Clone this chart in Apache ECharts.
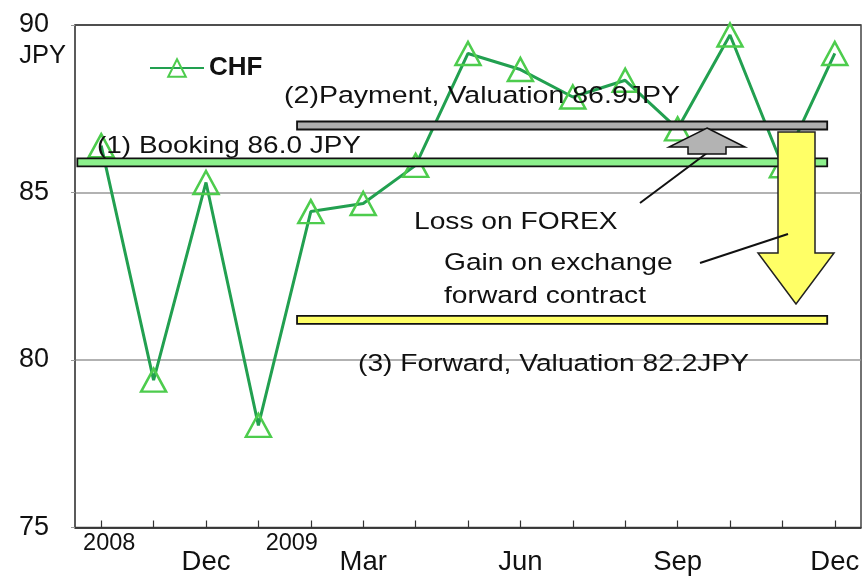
<!DOCTYPE html>
<html>
<head>
<meta charset="utf-8">
<script src="https://cdn.jsdelivr.net/npm/echarts@6/dist/echarts.min.js"></script>
<style>
html,body{margin:0;padding:0;background:#fff;}
#chart{width:863px;height:577px;}
</style>
</head>
<body>
<div id="chart"></div>
<script>
// ---- data ----
const categories = ['Oct 2008','Nov 2008','Dec 2008','Jan 2009','Feb 2009','Mar 2009','Apr 2009','May 2009','Jun 2009','Jul 2009','Aug 2009','Sep 2009','Oct 2009','Nov 2009','Dec 2009'];
const monthLabels = ['', '', 'Dec', '', '', 'Mar', '', '', 'Jun', '', '', 'Sep', '', '', 'Dec'];
const yearLabels = ['2008', '', '', '', '2009', '', '', '', '', '', '', '', '', '', ''];
const chfValues = [86.4, 79.4, 85.3, 78.05, 84.43, 84.67, 85.81, 89.15, 88.67, 87.85, 88.35, 86.9, 89.7, 85.8, 89.15];
const seriesName = 'CHF';
const yMin = 75, yMax = 90, yStep = 5;
const rateNames = ['(1) Booking 86.0 JPY', '(2)Payment, Valuation 86.9JPY', '(3) Forward, Valuation 82.2JPY'];
const rateLevels = [85.9, 87.0, 81.2];
const noteLoss = 'Loss on FOREX';
const noteGain = ['Gain on exchange', 'forward contract'];

// ---- styles (positions / looks) ----
const FONT = "'Liberation Sans', Arial, sans-serif";
const barStyle = [
  {fill: '#8cf08c', x0: 0.003, x1: 0.957},
  {fill: '#b0b0b0', x0: 0.2825, x1: 0.957},
  {fill: '#ffff66', x0: 0.2825, x1: 0.957}
];
const BAR_H = 8;

const chart = echarts.init(document.getElementById('chart'), null, {renderer: 'canvas'});

function txt(text, x, y, sx) {
  return {
    type: 'text', x: x, y: y, scaleX: sx || 1.15, z: 2.5,
    style: {text: text, fontSize: 24.5, fontFamily: FONT, fill: '#111', verticalAlign: 'middle', align: 'left'}
  };
}

const option = {
  animation: false,
  backgroundColor: '#fff',
  grid: {left: 75, right: 2, top: 25, bottom: 49.5, show: true, borderColor: '#444', borderWidth: 1.5, backgroundColor: 'transparent'},
  legend: {
    show: true, left: 144, top: 50, itemWidth: 54, itemHeight: 22, itemGap: 5,
    data: [seriesName],
    textStyle: {fontSize: 26, fontWeight: 'bold', fontFamily: FONT, color: '#111'}
  },
  xAxis: [{
    type: 'category', data: categories, boundaryGap: true, position: 'bottom',
    axisLine: {show: true, lineStyle: {color: '#333', width: 1.5}},
    axisTick: {show: true, inside: true, length: 7, alignWithLabel: true, interval: 0, lineStyle: {color: '#333', width: 1.2}},
    axisLabel: {interval: 0, margin: 21, fontSize: 27.5, fontFamily: FONT, color: '#111',
      formatter: function (v, i) { return monthLabels[i]; }},
    splitLine: {show: false}
  }, {
    type: 'category', data: categories, boundaryGap: true, position: 'bottom',
    axisLine: {show: false}, axisTick: {show: false}, splitLine: {show: false},
    axisLabel: {interval: 0, margin: 4, fontSize: 23.5, fontFamily: FONT, color: '#111',
      formatter: function (v, i) {
        const t = yearLabels[i];
        if (!t) return '';
        return i === 0 ? '{a|' + t + '}' : '{b|' + t + '}';
      },
      rich: {
        a: {fontSize: 23.5, fontFamily: FONT, color: '#111', padding: [0, 0, 0, 16]},
        b: {fontSize: 23.5, fontFamily: FONT, color: '#111', padding: [0, 38, 0, 0]}
      }
    }
  }],
  yAxis: {
    type: 'value', min: yMin, max: yMax, interval: yStep,
    name: 'JPY', nameLocation: 'end', nameGap: -31,
    nameTextStyle: {fontSize: 25.5, fontFamily: FONT, color: '#111', align: 'right', verticalAlign: 'middle', padding: [0, 9, 0, 0]},
    axisLine: {show: true, lineStyle: {color: '#555', width: 1.5}},
    axisTick: {show: true, inside: false, length: 4, lineStyle: {color: '#999'}},
    axisLabel: {fontSize: 27, fontFamily: FONT, color: '#111', margin: 26},
    splitLine: {show: true, lineStyle: {color: ['#444', '#999', '#999', '#444'], width: 1.5}}
  },
  series: [{
    name: seriesName, type: 'line', data: chfValues, xAxisIndex: 0, z: 2,
    symbol: 'triangle', symbolSize: [25, 23],
    lineStyle: {color: '#22a050', width: 3},
    itemStyle: {color: 'rgba(255,255,255,0)', borderColor: '#4dcc4d', borderWidth: 2.5},
    emphasis: {disabled: true}
  }, {
    name: 'rates', type: 'custom', z: 4, silent: true,
    data: rateLevels.map(function (v, i) { return [i, v]; }),
    encode: {y: 1},
    renderItem: function (params, api) {
      const idx = params.dataIndex;
      const cs = params.coordSys;
      const y = api.coord([0, api.value(1)])[1];
      const st = barStyle[idx];
      const x0 = cs.x + cs.width * st.x0, x1 = cs.x + cs.width * st.x1;
      return {
        type: 'rect',
        shape: {x: x0, y: y - BAR_H / 2, width: x1 - x0, height: BAR_H},
        style: {fill: st.fill, stroke: '#111', lineWidth: 1.8}
      };
    }
  }],
  graphic: [
    txt(rateNames[0], 97, 146, 1.14),
    txt(rateNames[1], 284, 96, 1.165),
    txt(rateNames[2], 358, 364, 1.15),
    txt(noteLoss, 414, 222, 1.15),
    txt(noteGain[0], 444, 263, 1.15),
    txt(noteGain[1], 444, 296, 1.15),
    {type: 'line', z: 6, shape: {x1: 640, y1: 203, x2: 707, y2: 153}, style: {stroke: '#111', lineWidth: 2}},
    {type: 'polygon', z: 8, shape: {points: [[707,128],[745,147],[726,147],[726,154],[688,154],[688,147],[669,147]]},
      style: {fill: '#b3b3b3', stroke: '#111', lineWidth: 1.5}},
    {type: 'polygon', z: 8, shape: {points: [[778,132],[815,132],[815,253],[834,253],[796,304],[758,253],[778,253]]},
      style: {fill: '#ffff66', stroke: '#222', lineWidth: 1.5}},
    {type: 'line', z: 9, shape: {x1: 700, y1: 263, x2: 788, y2: 234}, style: {stroke: '#111', lineWidth: 2}}
  ]
};
chart.setOption(option);
</script>
</body>
</html>
